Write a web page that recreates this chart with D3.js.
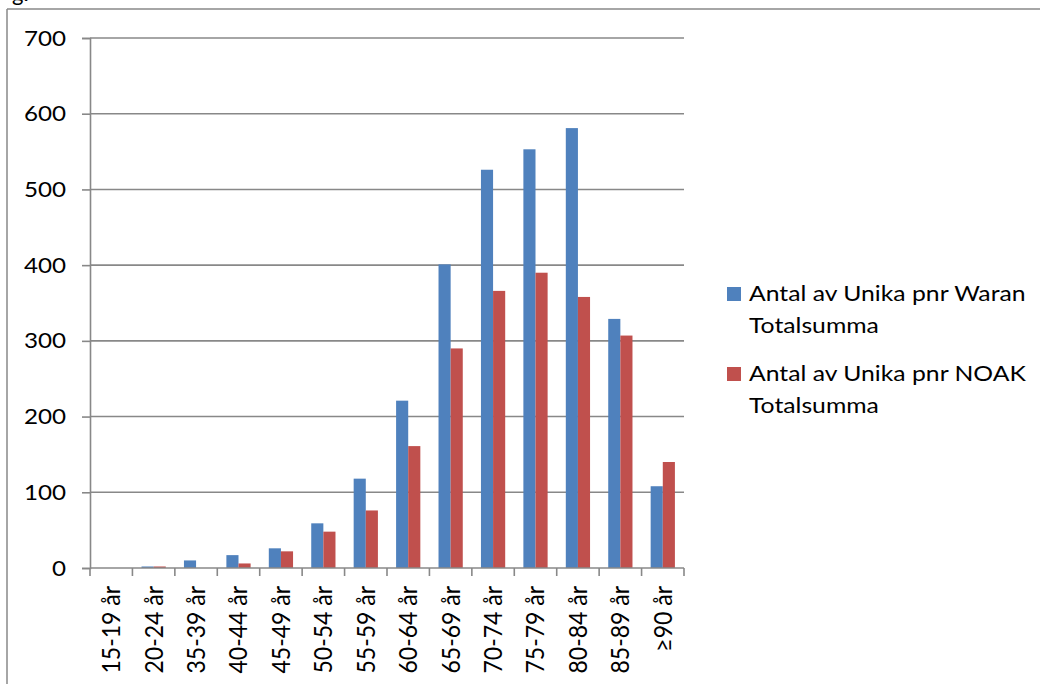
<!DOCTYPE html>
<html>
<head>
<meta charset="utf-8">
<script src="https://cdn.jsdelivr.net/npm/d3@7"></script>
<style>
  html, body { margin: 0; padding: 0; background: #fff; }
  svg { display: block; }
  text { font-family: Lato, "Open Sans", sans-serif; fill: #000; }
</style>
</head>
<body>
<svg id="chart" width="1040" height="684"></svg>
<script>
// Age groups and patient counts per treatment
const categories = ["15-19 år", "20-24 år", "35-39 år", "40-44 år", "45-49 år", "50-54 år", "55-59 år",
                    "60-64 år", "65-69 år", "70-74 år", "75-79 år", "80-84 år", "85-89 år", "≥90 år"];
const waran = [0, 2, 10, 17, 26, 59, 118, 221, 401, 526, 553, 581, 329, 108];
const noak  = [0, 2, 0, 6, 22, 48, 76, 161, 290, 366, 390, 358, 307, 140];
const seriesNames = [["Antal av Unika pnr Waran", "Totalsumma"], ["Antal av Unika pnr NOAK", "Totalsumma"]];
const seriesColors = ["#4F81BD", "#C0504D"];
const yTicks = [0, 100, 200, 300, 400, 500, 600, 700];

const svg = d3.select("#chart");
const W = 1040, H = 684;
const plot = { left: 90, right: 684, top: 38, bottom: 568 };
const gridColor = "#888888";
const stretch = 1.1; // text is drawn slightly wide

// Frame around the chart object
svg.append("line").attr("x1", 7).attr("x2", W).attr("y1", 9).attr("y2", 9)
  .attr("stroke", gridColor).attr("stroke-width", 1.5);
svg.append("line").attr("x1", 7).attr("x2", 7).attr("y1", 9).attr("y2", H)
  .attr("stroke", gridColor).attr("stroke-width", 1.5);
// Caption line above the frame, mostly out of view
svg.append("text").attr("x", 12).attr("y", 1).style("font-size", "22px").text("g.");

const x = d3.scaleBand().domain(categories).range([plot.left, plot.right]).paddingInner(0).paddingOuter(0);
const y = d3.scaleLinear().domain([0, 700]).range([plot.bottom, plot.top]);
const barW = x.bandwidth() / 3.5;

// Horizontal gridlines
svg.append("g").selectAll("line").data(yTicks.filter(d => d > 0)).join("line")
  .attr("x1", plot.left).attr("x2", plot.right)
  .attr("y1", d => y(d)).attr("y2", d => y(d))
  .attr("stroke", gridColor).attr("stroke-width", 1.6);

// Bars
const groups = [waran, noak];
groups.forEach((vals, si) => {
  svg.append("g").selectAll("rect").data(categories).join("rect")
    .attr("x", (c) => x(c) + x.bandwidth() / 2 - barW + si * barW)
    .attr("width", barW)
    .attr("y", (c, i) => y(vals[i]))
    .attr("height", (c, i) => y(0) - y(vals[i]))
    .attr("fill", seriesColors[si]);
});

// Y axis
const yAxis = d3.axisLeft(y).tickValues(yTicks).tickSize(8).tickPadding(16).tickFormat(d3.format("d"));
const gy = svg.append("g").attr("transform", `translate(${plot.left},0)`).call(yAxis);
gy.select(".domain").attr("stroke", gridColor).attr("stroke-width", 1.6);
gy.selectAll(".tick line").attr("stroke", gridColor).attr("stroke-width", 1.6);
gy.selectAll(".tick text").style("font-size", "22px").attr("fill", "#000").style("font-family", "Lato, sans-serif")
  .attr("x", 0).attr("transform", `translate(-24,0) scale(${stretch},1)`);

// X axis: ticks sit at the category boundaries
const gx = svg.append("g");
gx.append("line").attr("x1", plot.left).attr("x2", plot.right).attr("y1", plot.bottom).attr("y2", plot.bottom)
  .attr("stroke", gridColor).attr("stroke-width", 1.6);
const bounds = categories.map(c => x(c)).concat([plot.right]);
gx.selectAll("line.tk").data(bounds).join("line").attr("class", "tk")
  .attr("x1", d => d).attr("x2", d => d).attr("y1", plot.bottom).attr("y2", plot.bottom + 8)
  .attr("stroke", gridColor).attr("stroke-width", 1.6);
gx.selectAll("text").data(categories).join("text")
  .attr("transform", c => `translate(${x(c) + x.bandwidth() / 2},586) rotate(-90) scale(1,${stretch})`)
  .attr("text-anchor", "end").attr("dy", "0.35em")
  .style("font-size", "23px")
  .text(c => c);

// Legend
const legend = svg.append("g");
seriesNames.forEach((lines, si) => {
  const top = 287 + si * 80;
  legend.append("rect").attr("x", 727).attr("y", top).attr("width", 14).attr("height", 14)
    .attr("fill", seriesColors[si]);
  lines.forEach((t, li) => {
    legend.append("text")
      .attr("transform", `translate(749,${top + 14 + li * 32}) scale(1.125,1)`)
      .style("font-size", "22px").text(t);
  });
});
</script>
</body>
</html>
